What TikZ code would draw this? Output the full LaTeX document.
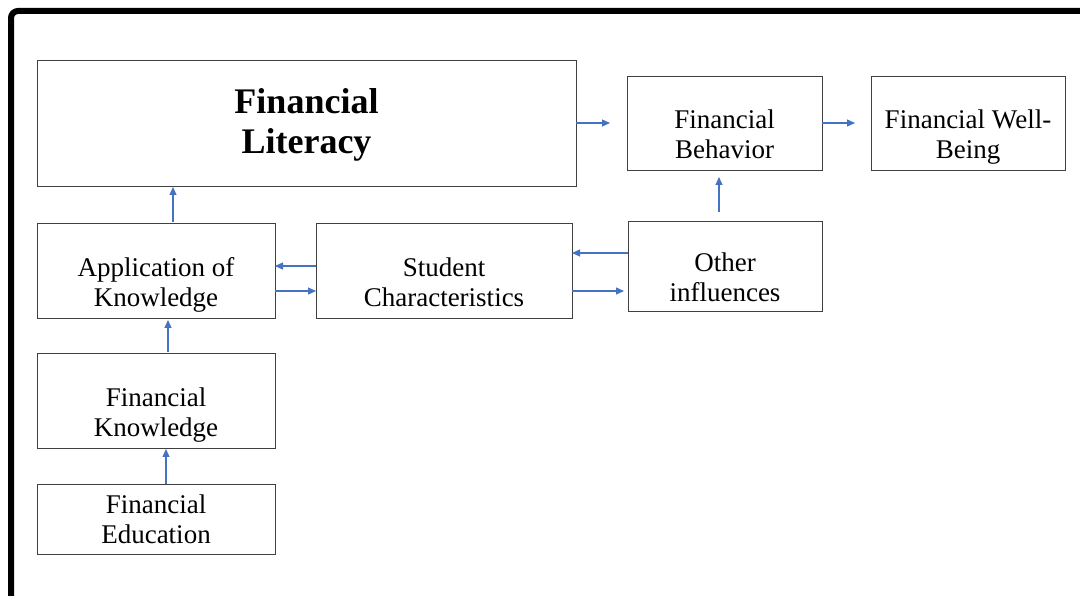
\documentclass[tikz,border=0pt]{standalone}
\usepackage{fontspec}
\setmainfont{Liberation Serif}
\usetikzlibrary{arrows.meta,positioning}

\definecolor{arrblue}{HTML}{4472C4}

\begin{document}
\begin{tikzpicture}[
  x=1pt, y=1pt,
  box/.style  = {draw=black!75, line width=0.9pt, align=center,
                 inner sep=0pt, outer sep=0pt,
                 font=\fontsize{27pt}{30pt}\selectfont,
                 text height=76pt, text depth=4pt},
  big/.style  = {box, font=\fontsize{36pt}{40pt}\selectfont\bfseries,
                 text height=68pt, text depth=6pt},
  arr/.style  = {-{Triangle[length=8pt,width=7pt]}, draw=arrblue, line width=1.1pt},
]
\useasboundingbox (0,0) rectangle (1080,595);
% heavy frame along the top and left edges
\draw[line width=6pt, rounded corners=7pt] (11,-10) -- (11,584) -- (1090,584);

\node[big, minimum width=539pt, minimum height=126pt]                  (lit)   at (306.5,472) {Financial\\Literacy};
\node[box, minimum width=195pt, minimum height=94pt, right=51pt of lit] (beh)   {Financial\\Behavior};
\node[box, minimum width=194pt, minimum height=94pt, right=49pt of beh] (well)  {Financial Well-\\Being};
\node[box, minimum width=238pt, minimum height=95pt,
      below=37pt of lit.south west, anchor=north west]                  (appl)  {Application of\\Knowledge};
\node[box, minimum width=256pt, minimum height=95pt, right=41pt of appl] (stud)  {Student\\Characteristics};
\node[box, minimum width=194pt, minimum height=90pt,
      right=56pt of stud, yshift=4.5pt]                                 (other) {Other\\influences};
\node[box, minimum width=238pt, minimum height=95pt, below=35pt of appl] (know)  {Financial\\Knowledge};
\node[box, minimum width=238pt, minimum height=70pt, below=36pt of know,
      text height=52pt, text depth=4pt]                                 (edu)   {Financial\\Education};

% top row
\draw[arr, shorten >=17pt] (lit) -- (beh);
\draw[arr, shorten >=16pt] (beh) -- (well);

% vertical links
\coordinate (o1) at ([xshift=-6pt]other.north);
\draw[arr, shorten <=9pt, shorten >=7pt] (o1) -- (o1 |- beh.south);
\coordinate (a1) at ([xshift=17pt]appl.north);
\draw[arr, shorten <=1pt, shorten >=1pt] (a1) -- (a1 |- lit.south);
\coordinate (k1) at ([xshift=12pt]know.north);
\draw[arr, shorten <=1pt, shorten >=2pt] (k1) -- (k1 |- appl.south);
\coordinate (e1) at ([xshift=10pt]edu.north);
\draw[arr, shorten >=1pt] (e1) -- (e1 |- know.south);

% middle row, both ways
\coordinate (s1) at ([yshift=4.5pt]stud.west);
\draw[arr] (s1) -- (s1 -| appl.east);
\coordinate (a2) at ([yshift=-20.5pt]appl.east);
\draw[arr] (a2) -- (a2 -| stud.west);
\coordinate (o2) at ([yshift=13pt]other.west);
\draw[arr] (o2) -- (o2 -| stud.east);
\coordinate (s2) at ([yshift=-20.5pt]stud.east);
\draw[arr, shorten >=4pt] (s2) -- (s2 -| other.west);
\end{tikzpicture}
\end{document}
